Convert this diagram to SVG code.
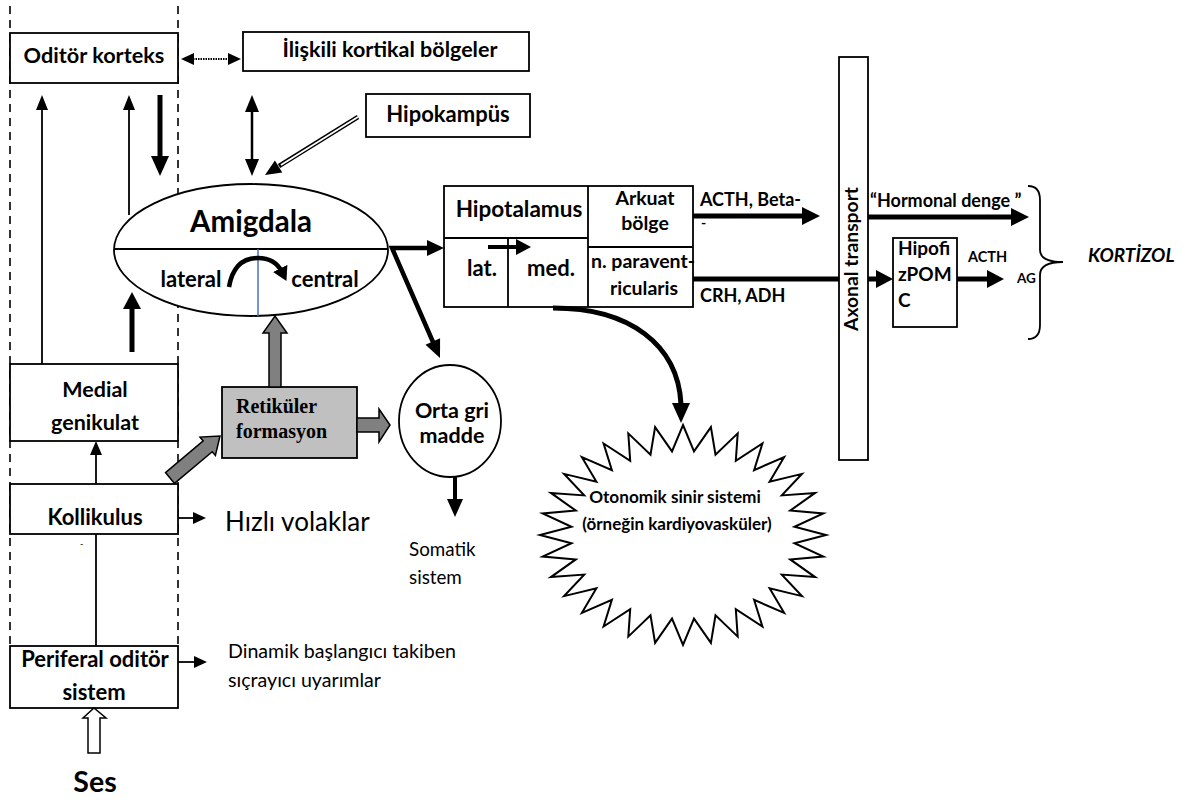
<svg xmlns="http://www.w3.org/2000/svg" width="1187" height="802" viewBox="0 0 1187 802">
<style>
.b{font-family:Lato,"Liberation Sans",sans-serif;font-weight:bold;fill:#000}
.r{font-family:Lato,"Liberation Sans",sans-serif;font-weight:normal;fill:#000}
.t{font-family:"Liberation Serif",serif;font-weight:bold;fill:#000}
.m{text-anchor:middle}
.box{fill:#fff;stroke:#000;stroke-width:1.8}
.ln{fill:none;stroke:#000;stroke-width:1.8}
.th{fill:none;stroke:#000;stroke-width:5}
.hd{fill:#000;stroke:none}
.gr{fill:#808080;stroke:#000;stroke-width:1.5}
</style>
<defs>
<marker id="cur" markerUnits="userSpaceOnUse" markerWidth="16" markerHeight="16" refX="4" refY="8" orient="auto"><path d="M0,0 L14,8 L0,16 z" fill="#000"/></marker>
</defs>
<rect width="1187" height="802" fill="#fff"/>
<g id="column">
<line x1="10" y1="6" x2="10" y2="646" stroke="#000" stroke-width="1.6" stroke-dasharray="8,6"/>
<line x1="178" y1="6" x2="178" y2="646" stroke="#000" stroke-width="1.6" stroke-dasharray="8,6"/>
</g>
<g id="oditor-korteks"><rect class="box" x="10" y="33" width="168" height="50"/><text class="b m" x="94" y="63" font-size="21.7">Oditör korteks</text></g>
<g id="iliskili"><rect class="box" x="243" y="32" width="286" height="39"/><text class="b m" x="390" y="57" font-size="21.5">İlişkili kortikal bölgeler</text></g>
<g id="hipokampus"><rect class="box" x="366" y="94" width="164" height="43"/><text class="b m" x="448" y="122" font-size="22">Hipokampüs</text></g>
<g id="amigdala">
<ellipse cx="251" cy="250" rx="137" ry="66" fill="#fff" stroke="#000" stroke-width="1.8"/>
<line class="ln" x1="114" y1="249" x2="388" y2="249"/>
<line x1="258" y1="249" x2="258" y2="316" stroke="#4472c4" stroke-width="1.5"/>
<text class="b m" x="251" y="232" font-size="29.5">Amigdala</text>
<text class="b m" x="191" y="287" font-size="22">lateral</text>
<text class="b m" x="325" y="287" font-size="22">central</text>
<path d="M229,287 Q234,258 258,258 Q275,258 282,272" fill="none" stroke="#000" stroke-width="4.5" marker-end="url(#cur)"/>
</g>
<g id="medial-genikulat"><rect class="box" x="10" y="364" width="168" height="77"/><text class="b m" x="95" y="397" font-size="21.5">Medial</text><text class="b m" x="95" y="430" font-size="21.5">genikulat</text></g>
<g id="kollikulus"><rect class="box" x="10" y="484" width="168" height="50"/><text class="b m" x="95" y="525" font-size="22">Kollikulus</text><text class="r" x="80" y="547" font-size="9" fill="#999">-</text></g>
<g id="periferal"><rect class="box" x="10" y="646" width="168" height="62"/><text class="b m" x="95" y="667" font-size="22">Periferal oditör</text><text class="b m" x="94" y="700" font-size="22">sistem</text></g>
<g id="ses"><text class="b m" x="95" y="792" font-size="28.5">Ses</text></g>
<g id="hizli"><text class="r" x="225" y="531" font-size="26">Hızlı volaklar</text></g>
<g id="dinamik"><text class="r" x="228" y="658" font-size="19.6">Dinamik başlangıcı takiben</text><text class="r" x="228" y="687" font-size="19.6">sıçrayıcı uyarımlar</text></g>
<g id="retikuler"><rect x="222" y="387" width="135" height="71" fill="#c0c0c0" stroke="#000" stroke-width="1.8"/><text class="t" x="236" y="413" font-size="20">Retiküler</text><text class="t" x="236" y="438" font-size="20">formasyon</text></g>
<g id="orta-gri"><ellipse cx="450" cy="421" rx="51" ry="56" fill="#fff" stroke="#000" stroke-width="1.8"/><text class="b m" x="452" y="418" font-size="21.5">Orta gri</text><text class="b m" x="452" y="443" font-size="21.5">madde</text></g>
<g id="somatik"><text class="r" x="409" y="556" font-size="18.8">Somatik</text><text class="r" x="409" y="584" font-size="18.8">sistem</text></g>
<g id="hipotalamus">
<rect class="box" x="444" y="186" width="249" height="121"/>
<path class="ln" d="M444,238 H588 M588,186 V307 M588,247 H693 M508,238 V307"/>
<text class="b m" x="519" y="217" font-size="22.5">Hipotalamus</text>
<text class="b m" x="645" y="205" font-size="19.5">Arkuat</text>
<text class="b m" x="645" y="230" font-size="19.5">bölge</text>
<text class="b m" x="482" y="276" font-size="22">lat.</text>
<text class="b m" x="551" y="276" font-size="22">med.</text>
<text class="b" x="591" y="268" font-size="19.5">n. paravent-</text>
<text class="b m" x="644" y="295" font-size="19.5">ricularis</text>
</g>
<g id="axonal"><rect class="box" x="839" y="57" width="29" height="403"/><text class="b m" transform="translate(858,259) rotate(-90)" font-size="19.3">Axonal transport</text></g>
<g id="hipofiz"><rect class="box" x="893" y="238" width="64" height="89"/><text class="b" x="898" y="255" font-size="19">Hipofi</text><text class="b" x="898" y="281" font-size="19">zPOM</text><text class="b" x="898" y="307" font-size="19">C</text></g>
<g id="otonomik">
<polygon fill="#fff" stroke="#000" stroke-width="2" points="683,425 694.0,451.4 710.9,427.1 715.5,454.6 737.7,433.4 735.8,460.9 762.4,443.5 754.1,470.1 784.1,457.2 769.6,481.7 801.9,473.9 781.8,495.4 815.1,492.9 790.2,510.6 823.3,513.5 794.5,526.8 826,535 794.5,543.2 823.3,556.5 790.2,559.4 815.1,577.1 781.8,574.6 801.9,596.1 769.6,588.3 784.1,612.8 754.1,599.9 762.4,626.5 735.8,609.1 737.7,636.6 715.5,615.4 710.9,642.9 694.0,618.6 683,645 672.0,618.6 655.1,642.9 650.5,615.4 628.3,636.6 630.2,609.1 603.6,626.5 611.9,599.9 581.9,612.8 596.4,588.3 564.1,596.1 584.2,574.6 550.9,577.1 575.8,559.4 542.7,556.5 571.5,543.2 540,535 571.5,526.8 542.7,513.5 575.8,510.6 550.9,492.9 584.2,495.4 564.1,473.9 596.4,481.7 581.9,457.2 611.9,470.1 603.6,443.5 630.2,460.9 628.3,433.4 650.5,454.6 655.1,427.1 672.0,451.4"/>
<text class="b m" x="675" y="503" font-size="17.2">Otonomik sinir sistemi</text>
<text class="b m" x="677" y="530" font-size="17">(örneğin kardiyovasküler)</text>
</g>
<g id="labels">
<text class="b" x="700" y="206" font-size="18">ACTH, Beta-</text>
<text class="b" x="701" y="228" font-size="14">-</text>
<text class="b" x="700" y="302" font-size="18">CRH, ADH</text>
<text class="b" x="870" y="207" font-size="18">“Hormonal denge ”</text>
<text class="b" x="968" y="262" font-size="14.5">ACTH</text>
<text class="b" x="1017" y="283" font-size="13.5">AG</text>
<text class="b" x="1088" y="262" font-size="19" font-style="italic">KORTİZOL</text>
</g>
<g id="connectors">
<line x1="193" y1="59" x2="229" y2="59" stroke="#000" stroke-width="2" stroke-dasharray="1.5,1"/>
<polygon class="hd" points="181,59 194,53 194,65"/>
<polygon class="hd" points="241,59 228,53 228,65"/>
<line class="ln" x1="42" y1="364" x2="42" y2="108"/>
<polygon class="hd" points="42,95 36,110 48,110"/>
<line class="ln" x1="129" y1="215" x2="129" y2="108"/>
<polygon class="hd" points="129,95 123,110 135,110"/>
<line class="th" x1="160" y1="95" x2="160" y2="158"/>
<polygon class="hd" points="160,176 151,156 169,156"/>
<line x1="252" y1="108" x2="252" y2="162" stroke="#000" stroke-width="2.5"/>
<polygon class="hd" points="252,95 245,112 259,112"/>
<polygon class="hd" points="252,176 245,159 259,159"/>
<line x1="358" y1="117" x2="279" y2="166" stroke="#000" stroke-width="4.5"/>
<line x1="358" y1="117" x2="281" y2="165" stroke="#fff" stroke-width="1.8"/>
<polygon class="hd" points="265,175 282.3,172.4 274.9,160.6"/>
<line class="th" x1="132" y1="352" x2="132" y2="306"/>
<polygon class="hd" points="132,292 123,309 141,309"/>
<line class="ln" x1="96" y1="484" x2="96" y2="452"/>
<polygon class="hd" points="96,441 90,455 102,455"/>
<line class="ln" x1="96" y1="646" x2="96" y2="534"/>
<line class="ln" x1="178" y1="518" x2="196" y2="518"/>
<polygon class="hd" points="206,518 193,512 193,524"/>
<line class="ln" x1="178" y1="662" x2="196" y2="662"/>
<polygon class="hd" points="207,662 194,656 194,668"/>
<polygon fill="#fff" stroke="#000" stroke-width="1.5" points="88,753 88,718 83,718 94,708 106,718 100,718 100,753"/>
<polygon class="gr" points="269,387 269,333 263,333 275,316 287,333 281,333 281,387"/>
<polygon class="gr" points="357,418 379,418 379,409 390,425 379,442 379,432 357,432"/>
<polygon class="gr" points="165.5,472.6 203.2,440.9 200,437.1 220,436 215.4,455.5 212.2,451.7 174.5,483.4"/>
<line x1="455" y1="477" x2="455" y2="500" stroke="#000" stroke-width="4"/>
<polygon class="hd" points="455,517 447,499 463,499"/>
<path d="M430,248 L392,248 L433,342" fill="none" stroke="#000" stroke-width="4.5" stroke-linejoin="miter"/>
<polygon class="hd" points="444,248 427,240 427,256"/>
<polygon class="hd" points="440,358 440.1,338.3 425.5,344.7"/>
<line x1="488" y1="247" x2="518" y2="247" stroke="#000" stroke-width="4"/>
<polygon class="hd" points="531,247 516,239 516,255"/>
<line class="th" x1="693" y1="216" x2="803" y2="216"/>
<polygon class="hd" points="820,216 802,207 802,225"/>
<line class="th" x1="693" y1="279" x2="839" y2="279"/>
<line class="th" x1="868" y1="217" x2="1012" y2="217"/>
<polygon class="hd" points="1029,217 1011,208 1011,226"/>
<line class="th" x1="868" y1="279" x2="877" y2="279"/>
<polygon class="hd" points="893,279 876,270 876,288"/>
<line class="th" x1="957" y1="279" x2="988" y2="279"/>
<polygon class="hd" points="1004,279 987,270 987,288"/>
<path class="ln" d="M1028,186 Q1040,186 1040,200 L1040,250 Q1040,262 1063,262 Q1040,262 1040,275 L1040,325 Q1040,339 1028,339"/>
<path class="th" d="M553,308 C630,308 678,345 681,404"/>
<polygon class="hd" points="681,423 672,403 690,403"/>
</g>
</svg>
